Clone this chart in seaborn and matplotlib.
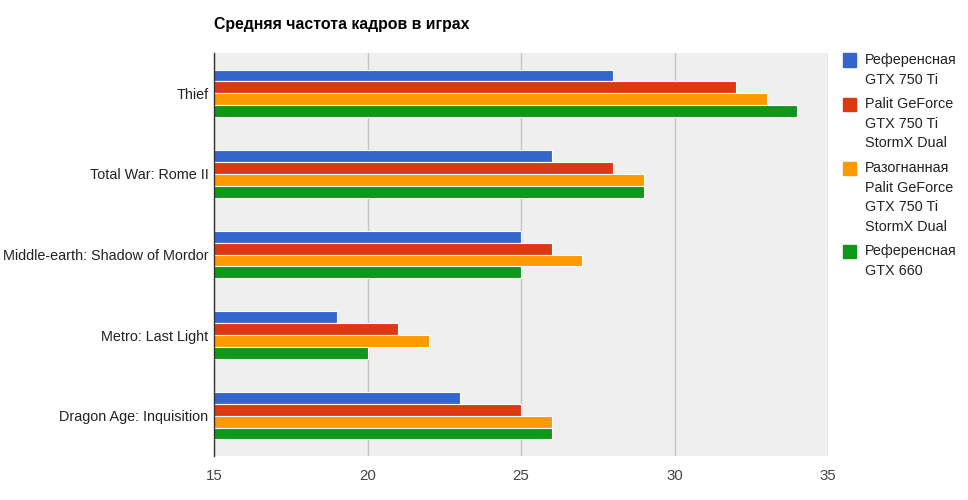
import matplotlib
matplotlib.use("Agg")
import matplotlib.pyplot as plt
import matplotlib.patches as mpatches
import seaborn as sns
import pandas as pd

games = ["Thief", "Total War: Rome II", "Middle-earth: Shadow of Mordor",
         "Metro: Last Light", "Dragon Age: Inquisition"]
series = ["Референсная\nGTX 750 Ti",
          "Palit GeForce\nGTX 750 Ti\nStormX Dual",
          "Разогнанная\nPalit GeForce\nGTX 750 Ti\nStormX Dual",
          "Референсная\nGTX 660"]
ref_750 = [28, 26, 25, 19, 23]
palit = [32, 28, 26, 21, 25]
palit_oc = [33, 29, 27, 22, 26]
ref_660 = [34, 29, 25, 20, 26]
colors = ["#3366cc", "#dc3912", "#ff9900", "#109618"]
x_ticks = [15, 20, 25, 30, 35]

rows = []
for name, vals in zip(series, [ref_750, palit, palit_oc, ref_660]):
    for g, v in zip(games, vals):
        rows.append({"game": g, "card": name, "fps": v})
df = pd.DataFrame(rows)

sns.set_style("white")
plt.rcParams["font.family"] = ["Liberation Sans", "DejaVu Sans"]

fig = plt.figure(figsize=(9.68, 5), dpi=100)
ax = fig.add_axes([214 / 968, 44 / 500, 614 / 968, 403 / 500])
ax.set_facecolor("#efefef")

sns.barplot(data=df, y="game", x="fps", hue="card", hue_order=series,
            order=games, palette=colors, saturation=1, orient="h", width=0.59,
            edgecolor="white", linewidth=0.8, legend=False, ax=ax)

ax.set_xlim(15, 35)
ax.set_xticks(x_ticks)
ax.xaxis.grid(True, color="#c4c4c4", linewidth=1)
ax.set_axisbelow(True)
ax.set_xlabel("")
ax.set_ylabel("")
for s in ["top", "right", "bottom"]:
    ax.spines[s].set_visible(False)
ax.spines["left"].set_color("#333333")
ax.spines["left"].set_linewidth(1)
ax.tick_params(axis="both", length=0)
ax.tick_params(axis="y", labelsize=10.4, labelcolor="#222222", pad=4)
ax.tick_params(axis="x", labelsize=10.8, labelcolor="#444444", pad=9)

fig.text(214 / 968, 1 - 25 / 500, "Средняя частота кадров в играх",
         fontsize=11.4, fontweight="bold", color="#000000", va="center")

# legend drawn by hand to match the wrapped layout
line_h = 19.6
y = 60
for name, c in zip(series, colors):
    fig.patches.append(mpatches.Rectangle((843 / 968, 1 - (y + 6.5) / 500),
                                          13 / 968, 13 / 500, color=c,
                                          transform=fig.transFigure))
    for line in name.split("\n"):
        fig.text(865 / 968, 1 - y / 500, line, fontsize=10.4,
                 color="#222222", va="center")
        y += line_h
    y += 5

plt.savefig("out.png", dpi=100)
